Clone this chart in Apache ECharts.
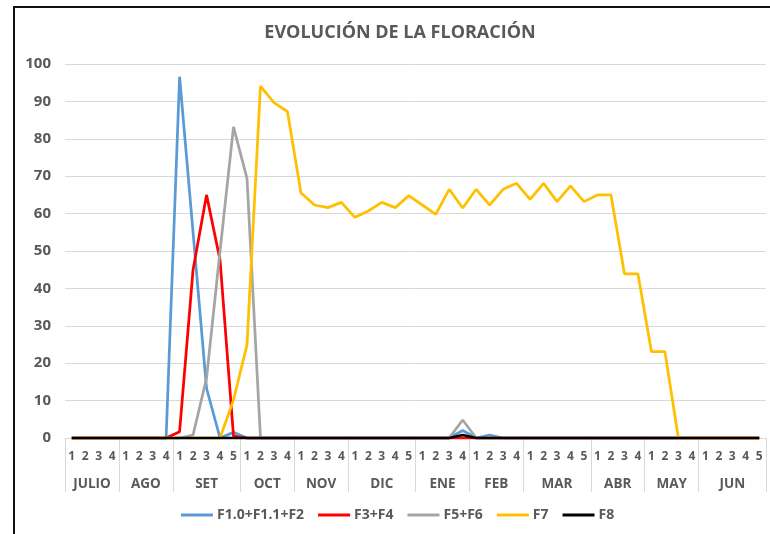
<!DOCTYPE html>
<html>
<head>
<meta charset="utf-8">
<script src="https://cdn.jsdelivr.net/npm/echarts@6/dist/echarts.min.js"></script>
<style>
  html, body { margin: 0; padding: 0; background: #fff; }
  #chart { width: 770px; height: 534px; position: absolute; left: 0; top: 0; }
  #frame { position: absolute; left: 13px; top: 6px; width: 800px; height: 600px;
           border-left: 2px solid #111; border-top: 2px solid #111; pointer-events: none; }
</style>
</head>
<body>
<div id="chart"></div>
<div id="frame"></div>
<script>
// months and number of weeks in each
var months = ['JULIO', 'AGO', 'SET', 'OCT', 'NOV', 'DIC', 'ENE', 'FEB', 'MAR', 'ABR', 'MAY', 'JUN'];
var weeksPerMonth = [4, 4, 5, 4, 4, 5, 4, 4, 5, 4, 4, 5];

var serieF1 = [0,0,0,0, 0,0,0,0, 96.6,55,13.3,0,1.5, 0,0,0,0, 0,0,0,0, 0,0,0,0,0, 0,0,0,2, 0,0.8,0,0, 0,0,0,0,0, 0,0,0,0, 0,0,0,0, 0,0,0,0,0];
var serieF3 = [0,0,0,0, 0,0,0,0, 1.7,45,65,47.6,0.5, 0,0,0,0, 0,0,0,0, 0,0,0,0,0, 0,0,0,0, 0,0,0,0, 0,0,0,0,0, 0,0,0,0, 0,0,0,0, 0,0,0,0,0];
var serieF5 = [0,0,0,0, 0,0,0,0, 0,0.8,16,50,83.2, 69.4,0,0,0, 0,0,0,0, 0,0,0,0,0, 0,0,0,4.8, 0,0,0,0, 0,0,0,0,0, 0,0,0,0, 0,0,0,0, 0,0,0,0,0];
var serieF7 = [0,0,0,0, 0,0,0,0, 0,0,0,0,10.2, 24.9,94.1,89.7,87.3, 65.6,62.3,61.6,63, 59,60.7,63,61.6,64.8, 62.3,59.8,66.5,61.5, 66.5,62.3,66.5,68.1, 63.8,68.1,63.2,67.4,63.2, 65,65,43.9,43.9, 23.1,23.1,0,0, 0,0,0,0,0];
var serieF8 = [0,0,0,0, 0,0,0,0, 0,0,0,0,0, 0,0,0,0, 0,0,0,0, 0,0,0,0,0, 0,0,0,0.8, 0,0,0,0, 0,0,0,0,0, 0,0,0,0, 0,0,0,0, 0,0,0,0,0];

var seriesNames = ['F1.0+F1.1+F2', 'F3+F4', 'F5+F6', 'F7', 'F8'];
var seriesColors = ['#5B9BD5', '#FF0000', '#A5A5A5', '#FFC000', '#000000'];

// week labels + month axis in half-week steps
var weekLabels = [];
var halfSteps = [];
var boundaries = [0];
var centers = {};
var pos = 0;
months.forEach(function (m, k) {
    for (var w = 1; w <= weeksPerMonth[k]; w++) weekLabels.push(String(w));
    centers[pos + weeksPerMonth[k]] = m;
    pos += weeksPerMonth[k] * 2;
    boundaries.push(pos);
});
for (var h = 0; h <= pos; h++) halfSteps.push(String(h));

var grey = '#595959';
var font = 'Open Sans';

var myChart = echarts.init(document.getElementById('chart'));
var data = [serieF1, serieF3, serieF5, serieF7, serieF8];

var option = {
    animation: false,
    title: {
        text: 'EVOLUCIÓN DE LA FLORACIÓN',
        left: 395,
        textAlign: 'center',
        top: 19,
        textStyle: { color: grey, fontSize: 18, fontWeight: 'bold', fontFamily: font }
    },
    grid: { left: 65, right: 4, top: 64, bottom: 96 },
    legend: {
        left: 181,
        top: 508,
        padding: 0,
        itemWidth: 32,
        itemHeight: 3,
        itemGap: 14,
        icon: 'rect',
        textStyle: { color: grey, fontSize: 14, fontWeight: 'bold', fontFamily: font, padding: [0, 0, 0, -1] },
        data: seriesNames
    },
    xAxis: [
        {
            type: 'category',
            data: weekLabels,
            boundaryGap: true,
            position: 'bottom',
            axisLine: { lineStyle: { color: '#d9d9d9' } },
            axisTick: { show: false },
            axisLabel: { interval: 0, margin: 13, color: grey, fontSize: 12, fontWeight: 'bold', fontFamily: font }
        },
        {
            type: 'category',
            data: halfSteps,
            boundaryGap: false,
            position: 'bottom',
            axisLine: { show: false },
            axisTick: {
                show: true,
                length: 54,
                interval: function (idx) { return boundaries.indexOf(idx) >= 0; },
                lineStyle: { color: '#d9d9d9' }
            },
            axisLabel: {
                margin: 39,
                interval: function (idx) { return centers[idx] !== undefined; },
                formatter: function (v, idx) { return centers[idx] || ''; },
                color: grey, fontSize: 13.5, fontWeight: 'bold', fontFamily: font
            },
            splitLine: { show: false }
        }
    ],
    yAxis: {
        type: 'value',
        min: 0,
        max: 100,
        interval: 10,
        axisLine: { show: false },
        axisTick: { show: false },
        axisLabel: { margin: 14, color: grey, fontSize: 15, fontWeight: 'bold', fontFamily: font },
        splitLine: { lineStyle: { color: '#d9d9d9' } }
    },
    series: seriesNames.map(function (name, i) {
        return {
            name: name,
            type: 'line',
            xAxisIndex: 0,
            data: data[i],
            showSymbol: false,
            symbol: 'none',
            color: seriesColors[i],
            lineStyle: { width: 2.75, color: seriesColors[i] }
        };
    })
};
myChart.setOption(option);
</script>
</body>
</html>
